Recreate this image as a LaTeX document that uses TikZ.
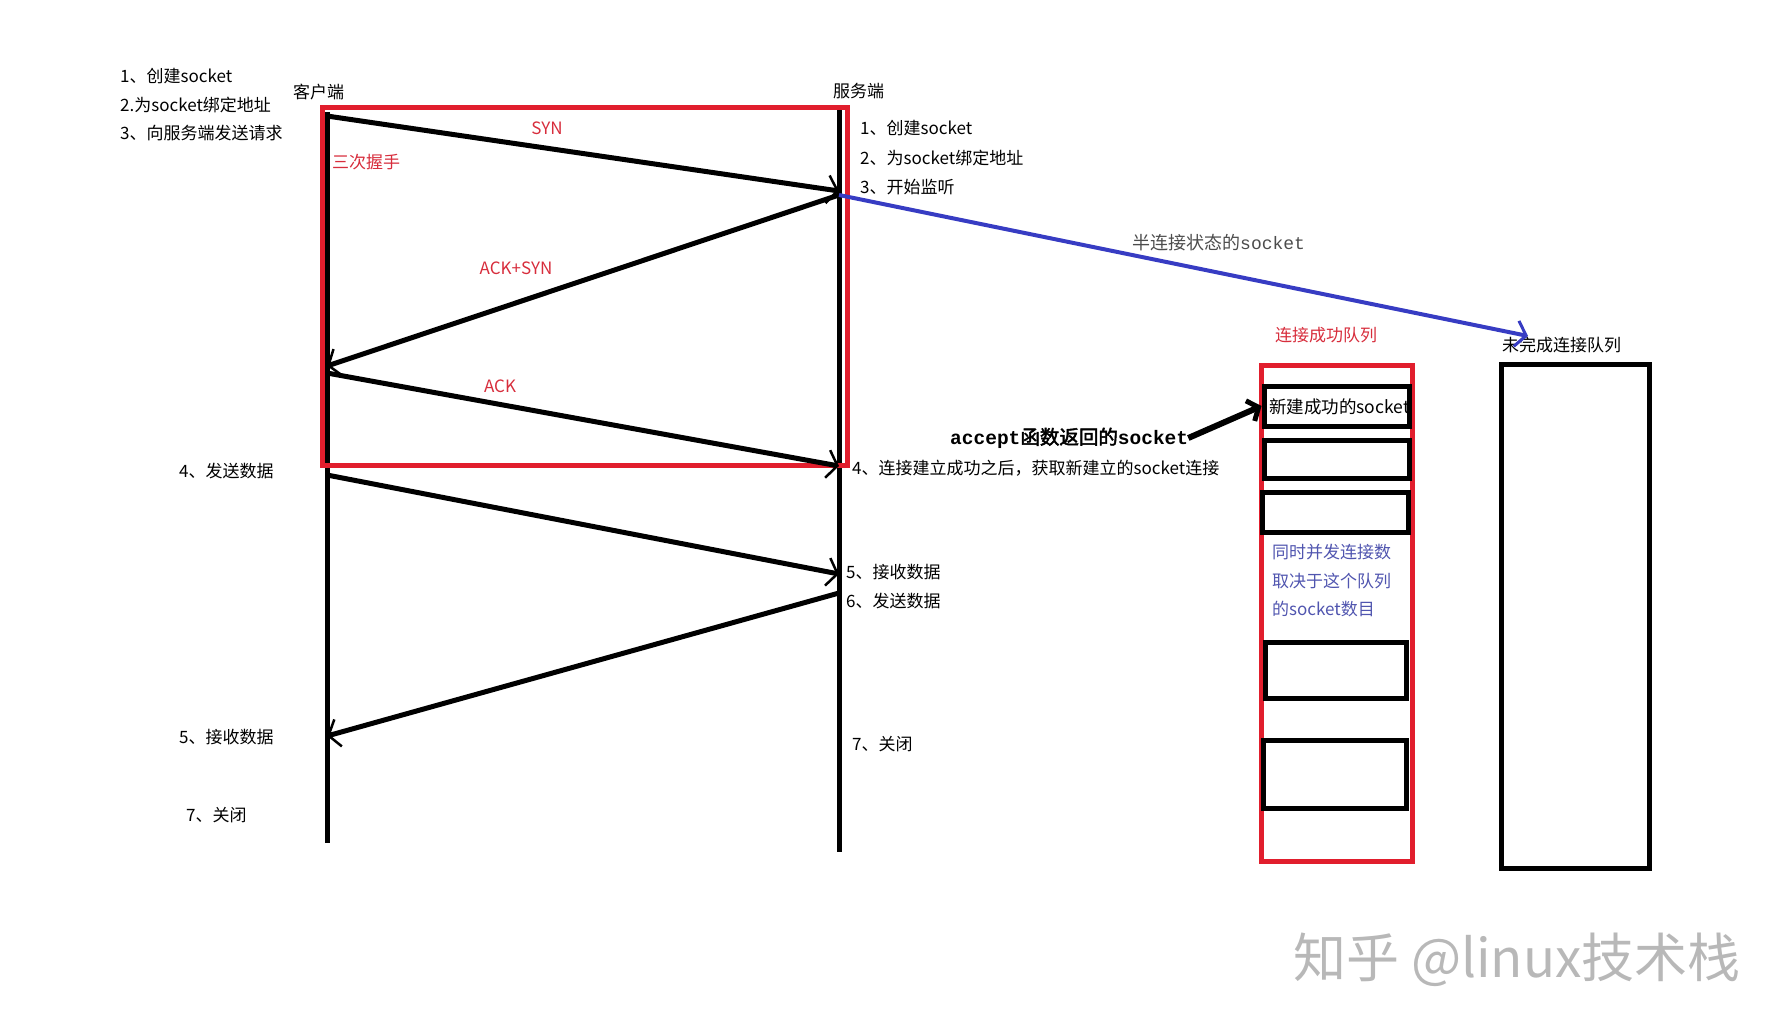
\documentclass[tikz,border=0pt]{standalone}
\usepackage{fontspec}
\setmainfont{Noto Sans CJK SC}
\newfontfamily\latmono{Liberation Mono}
\newfontfamily\cjkbold[FakeBold=2.5]{Noto Sans CJK SC}
\usepackage{xcolor}
\usepackage{tikz}
\usetikzlibrary{arrows.meta,positioning}

\definecolor{boxred}{RGB}{225,30,45}
\definecolor{txtred}{RGB}{215,45,60}
\definecolor{halfblue}{RGB}{55,60,195}
\definecolor{noteblue}{RGB}{80,85,175}

\begin{document}
\begin{tikzpicture}[x=1pt,y=-1pt,
  life/.style={line width=5pt},
  msg/.style={line width=5pt,-{Straight Barb[length=10pt,width=28pt,line width=2.5pt]}},
  lb/.style={anchor=west,inner sep=0pt,font=\fontsize{17}{20}\selectfont},
  hs/.style={lb,text=txtred},
  slot/.style={draw,line width=5pt,inner sep=0pt,minimum width=145pt}
]
\useasboundingbox (0,0) rectangle (1782,1028);
% ---- lifelines ----
\coordinate (ctop) at (327,112);
\coordinate (cbot) at (327,843);
\coordinate (stop) at (839,107);
\coordinate (sbot) at (839,852);
\draw[life] (ctop) -- (cbot);
\draw[life] (stop) -- (sbot);
\node[lb] (cli) at (293,92) {客户端};
\node[lb] (srv) at (833,91) {服务端};
% ---- message points ----
\coordinate (c1) at (327,116);
\coordinate (s1) at (839,191);
\coordinate (s2) at (839,195);
\coordinate (c2) at (327,366);
\coordinate (c3) at (327,373);
\coordinate (s3) at (839,466);
\coordinate (c4) at (327,475);
\coordinate (s4) at (839,574);
\coordinate (s5) at (839,593);
\coordinate (c5) at (327,736);
% three-way handshake
\draw[boxred,line width=5pt] (322,107) rectangle (847,465);
\node[hs] (hand) at (332,162) {三次握手};
\draw[msg] (c1) -- (s1);
\draw[msg] (s2) -- (c2);
\draw[msg] (c3) -- (s3);
\node[hs,anchor=center] (syn) at (547,128) {SYN};
\node[hs,anchor=center] (acksyn) at (516,268) {ACK+SYN};
\node[hs,anchor=center] (ack) at (500,386) {ACK};
% data exchange
\draw[msg] (c4) -- (s4);
\draw[msg] (s5) -- (c5);
% ---- client steps ----
\node[lb] (cs1) at (120,76) {1、创建socket};
\node[lb] (cs2) at (120,105) {2.为socket绑定地址};
\node[lb] (cs3) at (120,133) {3、向服务端发送请求};
\node[lb] (cd4) at (179,471) {4、发送数据};
\node[lb] (cd5) at (179,737) {5、接收数据};
\node[lb] (cd7) at (186,815) {7、关闭};
% ---- server steps ----
\node[lb] (ss1) at (860,128) {1、创建socket};
\node[lb] (ss2) at (860,158) {2、为socket绑定地址};
\node[lb] (ss3) at (860,187) {3、开始监听};
\node[lb] (sd4) at (852,468) {4、连接建立成功之后，获取新建立的socket连接};
\node[lb] (sd5) at (846,572) {5、接收数据};
\node[lb] (sd6) at (846,601) {6、发送数据};
\node[lb] (sd7) at (852,744) {7、关闭};
% ---- accept queue ----
\node[hs] (okq) at (1275,335) {连接成功队列};
\draw[boxred,line width=5pt] (1261,365) rectangle (1412,861);
\node[slot,minimum height=40pt] (q1) at (1336.5,406) {};
\node[slot,minimum height=38pt] (q2) at (1336.5,459) {};
\node[slot,minimum height=40pt,minimum width=146pt] (q3) at (1335,512) {};
\node[slot,minimum height=56pt,minimum width=141pt] (q4) at (1335.5,670) {};
\node[slot,minimum height=68pt,minimum width=143pt] (q5) at (1334.5,774) {};
\node[lb,font=\fontsize{17.5}{20}\selectfont] (q1t) at (1269,407) {新建成功的socket};
\node[lb,text=noteblue,align=left,font=\fontsize{17}{28.5}\selectfont] (note) at (1272,581)
  {同时并发连接数\\取决于这个队列\\的socket数目};
% ---- half-open queue ----
\node[lb] (halfq) at (1502,345) {未完成连接队列};
\node[draw,line width=5pt,minimum width=148pt,minimum height=504pt] (inq) at (1575,616) {};
\coordinate (hq) at (1528,336);
\draw[halfblue,line width=4pt,-{Straight Barb[length=10pt,width=26pt,line width=3pt]}] (s2) -- (hq);
\node[lb,text=black!70,font=\fontsize{18}{20}\selectfont] (half) at (1132,243) {半连接状态的{\latmono socket}};
% accept returns the new socket
\node[lb,font=\fontsize{19.5}{22}\selectfont] (acc) at (950,438)
  {{\latmono\bfseries accept}{\cjkbold 函数返回的}{\latmono\bfseries socket}};
\draw[line width=6pt,-{Straight Barb[length=9pt,width=22pt,line width=5pt]}] (acc.east) -- (q1.west);
% watermark
\node[font=\fontsize{53}{53}\selectfont,text=black!28] (wm) at (1517,960) {知乎 @linux技术栈};
\end{tikzpicture}
\end{document}
